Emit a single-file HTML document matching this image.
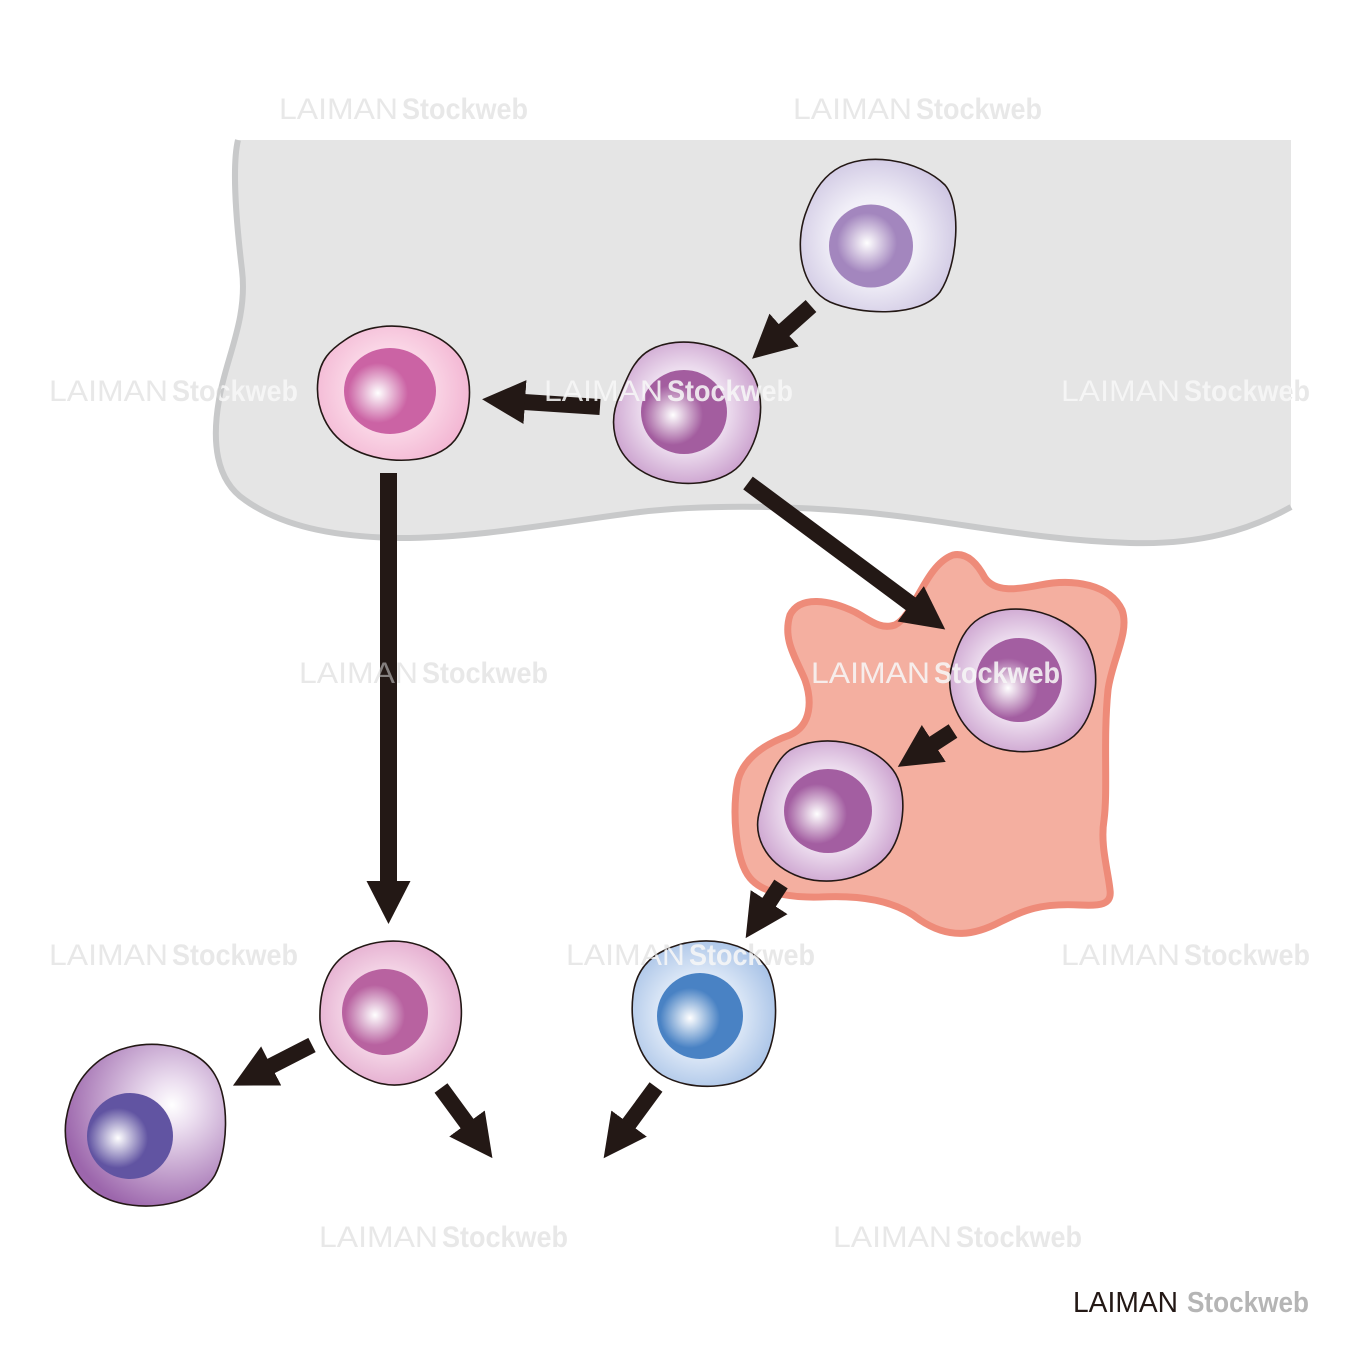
<!DOCTYPE html>
<html><head><meta charset="utf-8"><style>
html,body{margin:0;padding:0;background:#fff;}
svg{display:block;}
</style></head><body>
<svg width="1350" height="1350" viewBox="0 0 1350 1350" xmlns="http://www.w3.org/2000/svg">
<defs>
<marker id="ah" markerUnits="userSpaceOnUse" markerWidth="48" markerHeight="50" viewBox="0 -25 48 50" refX="1" refY="0" orient="auto">
<path d="M0,-22 L43,0 L0,22 Z" fill="#231815"/>
</marker>
<radialGradient id="c1" gradientUnits="userSpaceOnUse" cx="875" cy="240" r="95"><stop offset="0" stop-color="#fff"/><stop offset="0.45" stop-color="#f0eef7"/><stop offset="1" stop-color="#c9c0df"/></radialGradient>
<radialGradient id="c2" gradientUnits="userSpaceOnUse" cx="685" cy="410" r="85"><stop offset="0" stop-color="#fff"/><stop offset="0.5" stop-color="#ecdcee"/><stop offset="1" stop-color="#c596c8"/></radialGradient>
<radialGradient id="c3" gradientUnits="userSpaceOnUse" cx="390" cy="390" r="85"><stop offset="0" stop-color="#fff"/><stop offset="0.5" stop-color="#fad6e6"/><stop offset="1" stop-color="#f2b3d1"/></radialGradient>
<radialGradient id="c4" gradientUnits="userSpaceOnUse" cx="1020" cy="680" r="85"><stop offset="0" stop-color="#fff"/><stop offset="0.5" stop-color="#ecdcee"/><stop offset="1" stop-color="#c596c8"/></radialGradient>
<radialGradient id="c5" gradientUnits="userSpaceOnUse" cx="828" cy="810" r="85"><stop offset="0" stop-color="#fff"/><stop offset="0.5" stop-color="#ecdcee"/><stop offset="1" stop-color="#c596c8"/></radialGradient>
<radialGradient id="c6" gradientUnits="userSpaceOnUse" cx="388" cy="1012" r="85"><stop offset="0" stop-color="#fff"/><stop offset="0.5" stop-color="#f3d3e5"/><stop offset="1" stop-color="#e1a4ca"/></radialGradient>
<radialGradient id="c7" gradientUnits="userSpaceOnUse" cx="172" cy="1105" r="110"><stop offset="0" stop-color="#fff"/><stop offset="0.22" stop-color="#ecdff0"/><stop offset="1" stop-color="#9c66ac"/></radialGradient>
<radialGradient id="c8" gradientUnits="userSpaceOnUse" cx="700" cy="1015" r="85"><stop offset="0" stop-color="#fff"/><stop offset="0.5" stop-color="#dae6f6"/><stop offset="1" stop-color="#a3bfe5"/></radialGradient>

<radialGradient id="n1" gradientUnits="userSpaceOnUse" cx="867" cy="243" r="30"><stop offset="0" stop-color="#fff"/><stop offset="1" stop-color="#a386be"/></radialGradient>
<radialGradient id="n2" gradientUnits="userSpaceOnUse" cx="673" cy="415" r="30"><stop offset="0" stop-color="#fff"/><stop offset="1" stop-color="#a35d9f"/></radialGradient>
<radialGradient id="n3" gradientUnits="userSpaceOnUse" cx="378" cy="393" r="30"><stop offset="0" stop-color="#fff"/><stop offset="1" stop-color="#cb63a4"/></radialGradient>
<radialGradient id="n4" gradientUnits="userSpaceOnUse" cx="1008" cy="688" r="30"><stop offset="0" stop-color="#fff"/><stop offset="1" stop-color="#a35ea1"/></radialGradient>
<radialGradient id="n5" gradientUnits="userSpaceOnUse" cx="817" cy="814" r="30"><stop offset="0" stop-color="#fff"/><stop offset="1" stop-color="#a35ea1"/></radialGradient>
<radialGradient id="n6" gradientUnits="userSpaceOnUse" cx="375" cy="1015" r="30"><stop offset="0" stop-color="#fff"/><stop offset="1" stop-color="#b862a0"/></radialGradient>
<radialGradient id="n7" gradientUnits="userSpaceOnUse" cx="118" cy="1138" r="30"><stop offset="0" stop-color="#fff"/><stop offset="1" stop-color="#6154a2"/></radialGradient>
<radialGradient id="n8" gradientUnits="userSpaceOnUse" cx="690" cy="1018" r="30"><stop offset="0" stop-color="#fff"/><stop offset="1" stop-color="#4982c4"/></radialGradient>

<clipPath id="lightclip">
<path d="M238,140 C232,165 236,220 242,270 C248,320 225,360 219,400 C212,440 215,480 245,500 C280,525 330,537 400,538 C480,538 560,522 640,512 C700,505 780,505 860,512 C950,520 1030,540 1130,543 C1200,545 1250,530 1291,507 L1291,140 Z"/>
<path d="M953,555 C968,552 978,565 985,578 C995,592 1015,590 1040,585 C1075,578 1110,585 1122,610 C1130,632 1112,660 1108,690 C1103,740 1108,790 1104,820 C1100,845 1108,870 1110,890 C1112,905 1100,906 1080,905 C1040,903 1025,910 1000,922 C975,935 950,940 920,920 C895,900 860,895 820,897 C780,898 760,890 750,878 C735,860 732,810 738,780 C745,755 770,742 790,735 C812,725 812,700 805,680 C797,660 782,640 790,615 C800,595 830,600 855,612 C870,620 880,630 895,625 C915,615 925,565 953,555 Z"/>
<path d="M665,950 C700,933 750,940 768,970 C780,995 778,1045 760,1068 C740,1090 690,1092 662,1075 C635,1058 630,1020 633,995 C636,970 650,957 665,950 Z"/>
</clipPath>
</defs>

<!-- gray tissue region -->
<path d="M238,140 C232,165 236,220 242,270 C248,320 225,360 219,400 C212,440 215,480 245,500 C280,525 330,537 400,538 C480,538 560,522 640,512 C700,505 780,505 860,512 C950,520 1030,540 1130,543 C1200,545 1250,530 1291,507 L1291,140 Z" fill="#e5e5e5"/>
<path d="M238,140 C232,165 236,220 242,270 C248,320 225,360 219,400 C212,440 215,480 245,500 C280,525 330,537 400,538 C480,538 560,522 640,512 C700,505 780,505 860,512 C950,520 1030,540 1130,543 C1200,545 1250,530 1291,507" fill="none" stroke="#c8c9ca" stroke-width="6"/>

<!-- amoeba -->
<path d="M953,555 C968,552 978,565 985,578 C995,592 1015,590 1040,585 C1075,578 1110,585 1122,610 C1130,632 1112,660 1108,690 C1103,740 1108,790 1104,820 C1100,845 1108,870 1110,890 C1112,905 1100,906 1080,905 C1040,903 1025,910 1000,922 C975,935 950,940 920,920 C895,900 860,895 820,897 C780,898 760,890 750,878 C735,860 732,810 738,780 C745,755 770,742 790,735 C812,725 812,700 805,680 C797,660 782,640 790,615 C800,595 830,600 855,612 C870,620 880,630 895,625 C915,615 925,565 953,555 Z" fill="#f4afa0" stroke="#ee8b79" stroke-width="7"/>

<!-- arrows -->
<g stroke="#231815" stroke-width="16" fill="none" marker-end="url(#ah)">
<line x1="811" y1="306" x2="783.4" y2="330.7"/>
<line x1="600" y1="407" x2="524" y2="402"/>
<line x1="748" y1="483" x2="911.5" y2="604.4"/>
<line x1="388.5" y1="473" x2="388.5" y2="882" stroke-width="17"/>
<line x1="953" y1="731" x2="933" y2="744"/>
<line x1="781" y1="884" x2="768.6" y2="903"/>
<line x1="312" y1="1045" x2="270.3" y2="1066.4"/>
<line x1="441" y1="1088" x2="467.6" y2="1124.3"/>
<line x1="656" y1="1087" x2="628.5" y2="1124.4"/>
</g>

<!-- cells -->
<g stroke="#231815" stroke-width="1.6">
<path d="M835,170 C865,150 920,160 945,185 C962,205 958,265 940,292 C920,318 860,315 830,302 C800,288 795,245 805,215 C812,195 820,180 835,170 Z" fill="url(#c1)"/>
<path d="M650,350 C680,333 730,345 750,370 C768,395 762,440 740,465 C720,487 670,490 640,470 C612,452 608,420 620,395 C628,375 635,358 650,350 Z" fill="url(#c2)"/>
<path d="M345,340 C380,315 440,325 462,360 C475,385 470,420 455,440 C435,465 385,465 355,450 C325,435 315,405 318,380 C320,360 330,350 345,340 Z" fill="url(#c3)"/>
<path d="M980,618 C1010,600 1060,610 1085,640 C1102,665 1098,710 1078,732 C1058,755 1005,758 980,740 C955,722 945,690 952,665 C958,643 965,627 980,618 Z" fill="url(#c4)"/>
<path d="M790,750 C820,733 870,740 893,770 C908,790 905,830 890,852 C870,880 825,888 795,875 C765,862 752,835 760,810 C766,785 775,760 790,750 Z" fill="url(#c5)"/>
<path d="M345,955 C375,935 425,935 448,965 C465,990 466,1030 450,1055 C432,1082 400,1090 375,1082 C345,1072 322,1048 320,1020 C319,990 328,967 345,955 Z" fill="url(#c6)"/>
<path d="M100,1060 C135,1035 195,1040 215,1075 C230,1100 228,1150 215,1175 C198,1205 145,1213 110,1200 C75,1187 62,1150 66,1120 C70,1095 80,1075 100,1060 Z" fill="url(#c7)"/>
<path d="M665,950 C700,933 750,940 768,970 C780,995 778,1045 760,1068 C740,1090 690,1092 662,1075 C635,1058 630,1020 633,995 C636,970 650,957 665,950 Z" fill="url(#c8)"/>
</g>

<!-- nuclei -->
<ellipse cx="871" cy="246" rx="42" ry="41.5" fill="url(#n1)"/>
<ellipse cx="684" cy="412" rx="43" ry="42" fill="url(#n2)"/>
<ellipse cx="390" cy="391" rx="46" ry="43" fill="url(#n3)"/>
<ellipse cx="1019" cy="680" rx="43" ry="42" fill="url(#n4)"/>
<ellipse cx="828" cy="811" rx="44" ry="42" fill="url(#n5)"/>
<ellipse cx="385" cy="1012" rx="43" ry="43" fill="url(#n6)"/>
<ellipse cx="130" cy="1136" rx="43" ry="43" fill="url(#n7)"/>
<ellipse cx="700" cy="1016" rx="43" ry="43" fill="url(#n8)"/>

<!-- watermarks base layer -->
<g font-family="Liberation Sans, sans-serif" font-size="30" fill="#d6d6d6" fill-opacity="0.55">
<text x="279" y="119" textLength="119" lengthAdjust="spacingAndGlyphs">LAIMAN</text><text x="402" y="119" textLength="126" lengthAdjust="spacingAndGlyphs" font-weight="bold">Stockweb</text>
<text x="793" y="119" textLength="119" lengthAdjust="spacingAndGlyphs">LAIMAN</text><text x="916" y="119" textLength="126" lengthAdjust="spacingAndGlyphs" font-weight="bold">Stockweb</text>
<text x="49" y="401" textLength="119" lengthAdjust="spacingAndGlyphs">LAIMAN</text><text x="172" y="401" textLength="126" lengthAdjust="spacingAndGlyphs" font-weight="bold">Stockweb</text>
<text x="544" y="401" textLength="119" lengthAdjust="spacingAndGlyphs">LAIMAN</text><text x="667" y="401" textLength="126" lengthAdjust="spacingAndGlyphs" font-weight="bold">Stockweb</text>
<text x="1061" y="401" textLength="119" lengthAdjust="spacingAndGlyphs">LAIMAN</text><text x="1184" y="401" textLength="126" lengthAdjust="spacingAndGlyphs" font-weight="bold">Stockweb</text>
<text x="299" y="683" textLength="119" lengthAdjust="spacingAndGlyphs">LAIMAN</text><text x="422" y="683" textLength="126" lengthAdjust="spacingAndGlyphs" font-weight="bold">Stockweb</text>
<text x="811" y="683" textLength="119" lengthAdjust="spacingAndGlyphs">LAIMAN</text><text x="934" y="683" textLength="126" lengthAdjust="spacingAndGlyphs" font-weight="bold">Stockweb</text>
<text x="49" y="965" textLength="119" lengthAdjust="spacingAndGlyphs">LAIMAN</text><text x="172" y="965" textLength="126" lengthAdjust="spacingAndGlyphs" font-weight="bold">Stockweb</text>
<text x="566" y="965" textLength="119" lengthAdjust="spacingAndGlyphs">LAIMAN</text><text x="689" y="965" textLength="126" lengthAdjust="spacingAndGlyphs" font-weight="bold">Stockweb</text>
<text x="1061" y="965" textLength="119" lengthAdjust="spacingAndGlyphs">LAIMAN</text><text x="1184" y="965" textLength="126" lengthAdjust="spacingAndGlyphs" font-weight="bold">Stockweb</text>
<text x="319" y="1247" textLength="119" lengthAdjust="spacingAndGlyphs">LAIMAN</text><text x="442" y="1247" textLength="126" lengthAdjust="spacingAndGlyphs" font-weight="bold">Stockweb</text>
<text x="833" y="1247" textLength="119" lengthAdjust="spacingAndGlyphs">LAIMAN</text><text x="956" y="1247" textLength="126" lengthAdjust="spacingAndGlyphs" font-weight="bold">Stockweb</text>
</g>
<!-- watermarks light layer (over gray/colored areas) -->
<g font-family="Liberation Sans, sans-serif" font-size="30" fill="#ffffff" fill-opacity="0.7" clip-path="url(#lightclip)">
<text x="279" y="119" textLength="119" lengthAdjust="spacingAndGlyphs">LAIMAN</text><text x="402" y="119" textLength="126" lengthAdjust="spacingAndGlyphs" font-weight="bold">Stockweb</text>
<text x="793" y="119" textLength="119" lengthAdjust="spacingAndGlyphs">LAIMAN</text><text x="916" y="119" textLength="126" lengthAdjust="spacingAndGlyphs" font-weight="bold">Stockweb</text>
<text x="49" y="401" textLength="119" lengthAdjust="spacingAndGlyphs">LAIMAN</text><text x="172" y="401" textLength="126" lengthAdjust="spacingAndGlyphs" font-weight="bold">Stockweb</text>
<text x="544" y="401" textLength="119" lengthAdjust="spacingAndGlyphs">LAIMAN</text><text x="667" y="401" textLength="126" lengthAdjust="spacingAndGlyphs" font-weight="bold">Stockweb</text>
<text x="1061" y="401" textLength="119" lengthAdjust="spacingAndGlyphs">LAIMAN</text><text x="1184" y="401" textLength="126" lengthAdjust="spacingAndGlyphs" font-weight="bold">Stockweb</text>
<text x="811" y="683" textLength="119" lengthAdjust="spacingAndGlyphs">LAIMAN</text><text x="934" y="683" textLength="126" lengthAdjust="spacingAndGlyphs" font-weight="bold">Stockweb</text>
<text x="566" y="965" textLength="119" lengthAdjust="spacingAndGlyphs">LAIMAN</text><text x="689" y="965" textLength="126" lengthAdjust="spacingAndGlyphs" font-weight="bold">Stockweb</text>
</g>

<!-- logo -->
<text x="1073" y="1312" font-family="Liberation Sans, sans-serif" font-size="29" fill="#231815" textLength="105" lengthAdjust="spacingAndGlyphs">LAIMAN</text>
<text x="1187" y="1312" font-family="Liberation Sans, sans-serif" font-size="29" font-weight="bold" fill="#b5b5b5" textLength="122" lengthAdjust="spacingAndGlyphs">Stockweb</text>
</svg>
</body></html>
